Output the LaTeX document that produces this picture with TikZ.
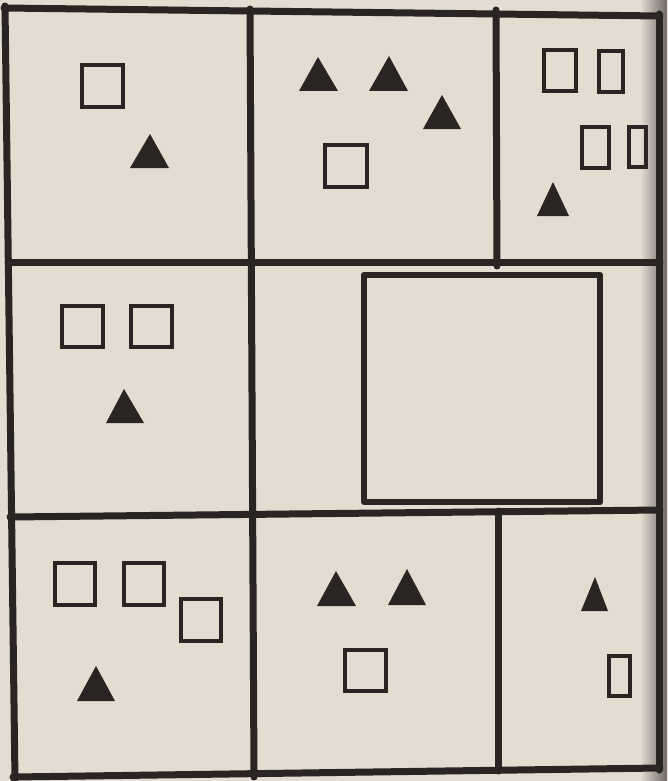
\documentclass[tikz,border=0pt]{standalone}
\usetikzlibrary{calc}
\definecolor{paper}{HTML}{E2DCD1}
\definecolor{ink}{HTML}{2A2522}
\definecolor{edge}{HTML}{6F6A64}
\tikzset{
  gridline/.style={draw=ink, line width=7pt, line cap=round},
  sq/.style={draw=ink, line width=4.5pt},
  bigsq/.style={draw=ink, line width=6.5pt, line join=round},
  tri/.style={fill=ink}
}
\begin{document}
\begin{tikzpicture}[x=1pt,y=-1pt]
\useasboundingbox (0,0) rectangle (667,781);
\fill[paper] (0,0) rectangle (667,781);
\shade[left color=paper, right color=edge] (640,0) rectangle (667,781);
% grid
\draw[gridline] (4,8) -- (660,16);
\draw[gridline] (5,6) -- (15,781);
\draw[gridline] (8,262) -- (660,262);
\draw[gridline] (10,517) -- (660,510);
\draw[gridline] (13,777) -- (660,768);
\draw[gridline] (250,9) -- (254,777);
\draw[gridline] (496,10) -- (497,266);
\draw[gridline] (498,511) -- (498,771);
\draw[gridline] (659,14) -- (659,770);
% row 1, cell 1
\draw[sq] (82,65) rectangle (123,107);
\fill[tri] (150,134) -- (130,168) -- (169,168) -- cycle;
% row 1, cell 2
\fill[tri] (318,57) -- (299,91) -- (338,91) -- cycle;
\fill[tri] (389,56) -- (369,91) -- (408,91) -- cycle;
\fill[tri] (442,95) -- (423,129) -- (461,129) -- cycle;
\draw[sq] (325,145) rectangle (367,187);
% row 1, cell 3
\draw[sq] (544,50) rectangle (576,91);
\draw[sq] (599,51) rectangle (623,92);
\draw[sq] (582,127) rectangle (609,168);
\draw[sq] (629,127) rectangle (646,167);
\fill[tri] (553,182) -- (537,216) -- (569,216) -- cycle;
% row 2, cell 1
\draw[sq] (62,306) rectangle (103,347);
\draw[sq] (131,306) rectangle (172,347);
\fill[tri] (124,389) -- (106,423) -- (144,423) -- cycle;
% row 2, big square
\draw[bigsq] (364,275) rectangle (600,502);
% row 3, cell 1
\draw[sq] (55,563) rectangle (95,605);
\draw[sq] (124,563) rectangle (164,605);
\draw[sq] (181,599) rectangle (221,641);
\fill[tri] (96,666) -- (77,701) -- (115,701) -- cycle;
% row 3, cell 2
\fill[tri] (336,571) -- (317,606) -- (356,606) -- cycle;
\fill[tri] (407,569) -- (388,605) -- (426,605) -- cycle;
\draw[sq] (345,650) rectangle (386,691);
% row 3, cell 3
\fill[tri] (595,577) -- (581,611) -- (608,611) -- cycle;
\draw[sq] (609,656) rectangle (630,696);
\end{tikzpicture}
\end{document}
